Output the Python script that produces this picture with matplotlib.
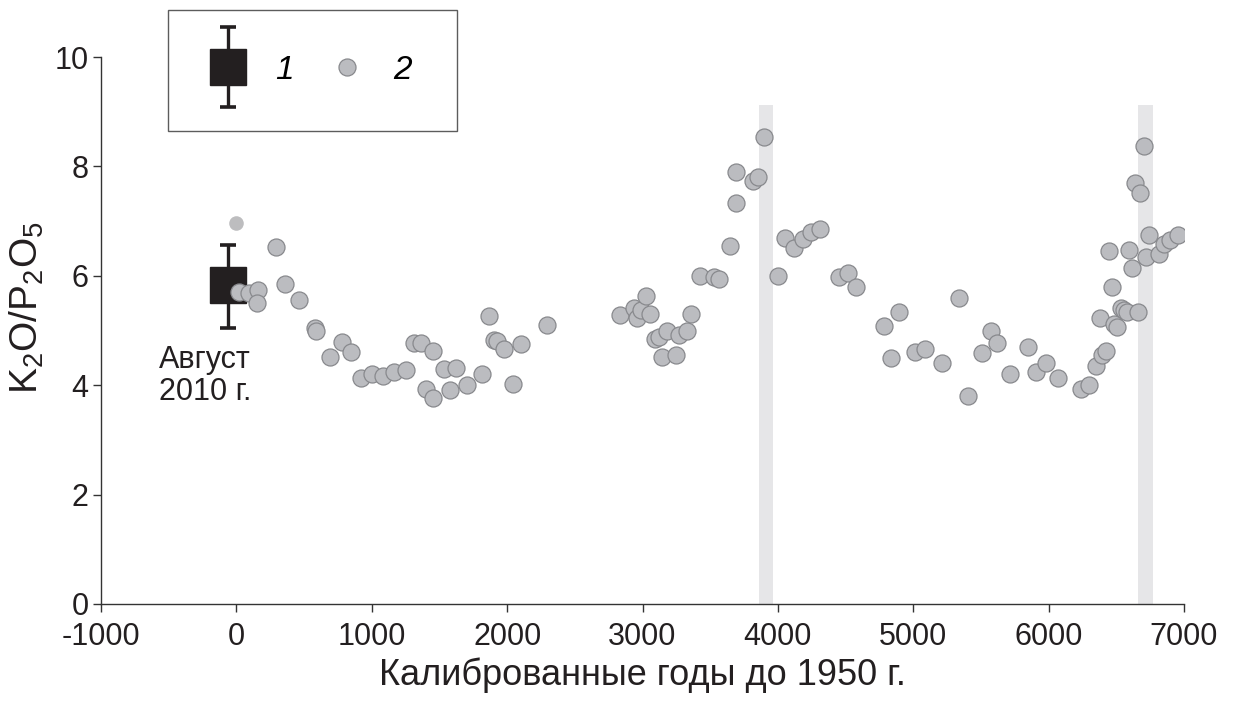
import matplotlib
matplotlib.use('Agg')
import matplotlib.pyplot as plt
from matplotlib.container import ErrorbarContainer
from matplotlib.legend_handler import HandlerErrorbar

plt.rcParams['font.family'] = ['Liberation Sans', 'DejaVu Sans']
plt.rcParams['mathtext.fontset'] = 'custom'
plt.rcParams['mathtext.rm'] = 'Liberation Sans'
plt.rcParams['mathtext.it'] = 'Liberation Sans:italic'
plt.rcParams['axes.unicode_minus'] = False

# 1 - August 2010 sample (mean with spread)
obs_x = [-60]
obs_y = [5.83]
obs_lo = [5.05]
obs_hi = [6.57]

# light point near the observation
extra_x = [0]
extra_y = [6.97]

# 2 - core samples
ages = [17, 91, 160, 152, 293, 357, 465, 583, 589, 689, 780, 847, 921, 1002,
        1083, 1162, 1253, 1310, 1363, 1401, 1450, 1453, 1531, 1580, 1625, 1704,
        1815, 1863, 1900, 1925, 1979, 2041, 2105, 2295, 2831, 2934, 2960, 2991,
        3028, 3058, 3089, 3119, 3144, 3181, 3247, 3272, 3328, 3360, 3427, 3525,
        3562, 3643, 3690, 3690, 3813, 3853, 3895, 3998, 4050, 4117, 4185, 4247,
        4313, 4448, 4515, 4577, 4786, 4838, 4892, 5015, 5084, 5212, 5337, 5401,
        5510, 5574, 5618, 5717, 5845, 5908, 5980, 6071, 6241, 6300, 6352, 6376,
        6393, 6423, 6442, 6467, 6479, 6504, 6534, 6558, 6578, 6597, 6615, 6640,
        6660, 6677, 6706, 6721, 6743, 6812, 6849, 6893, 6959]
ratio = [5.71, 5.69, 5.74, 5.50, 6.52, 5.85, 5.56, 5.04, 5.00, 4.52, 4.79, 4.61,
         4.14, 4.20, 4.16, 4.25, 4.27, 4.77, 4.78, 3.93, 4.63, 3.77, 4.29, 3.91,
         4.31, 4.00, 4.20, 5.27, 4.83, 4.80, 4.67, 4.03, 4.75, 5.10, 5.28, 5.42,
         5.22, 5.37, 5.64, 5.30, 4.84, 4.89, 4.51, 4.99, 4.55, 4.92, 4.99, 5.31,
         6.00, 5.98, 5.95, 6.54, 7.34, 7.89, 7.74, 7.81, 8.53, 6.00, 6.69, 6.50,
         6.67, 6.80, 6.86, 5.98, 6.05, 5.80, 5.08, 4.49, 5.34, 4.60, 4.66, 4.40,
         5.60, 3.81, 4.58, 4.99, 4.77, 4.20, 4.69, 4.25, 4.40, 4.13, 3.93, 4.00,
         4.35, 5.23, 4.56, 4.63, 6.45, 5.80, 5.12, 5.07, 5.41, 5.37, 5.33, 6.48,
         6.15, 7.70, 5.33, 7.52, 8.37, 6.35, 6.75, 6.39, 6.59, 6.65, 6.75]

# shaded intervals
band_start = [3860, 6662]
band_end = [3965, 6770]
band_top = 9.12

fig = plt.figure(figsize=(12.33, 7.13), dpi=100)
ax = fig.add_axes([0.0819, 0.1529, 0.8784, 0.7671])

for b0, b1 in zip(band_start, band_end):
    ax.fill_betweenx([0, band_top], b0, b1, color='#e6e6e8', lw=0, zorder=1)

dark = '#231f20'
eb = ax.errorbar(obs_x, obs_y,
                 yerr=[[y - lo for y, lo in zip(obs_y, obs_lo)],
                       [hi - y for y, hi in zip(obs_y, obs_hi)]],
                 fmt='s', ms=26, color=dark, ecolor=dark, elinewidth=2.4,
                 capsize=6, capthick=2.6, zorder=2)
ax.scatter(extra_x, extra_y, s=110, color='#bdbdbf', lw=0, zorder=3)
sc = ax.scatter(ages, ratio, s=150, facecolor='#bbbcc0', edgecolor='#88898d',
                linewidth=0.9, zorder=4)

ax.text(-575, 4.17, 'Август\n2010 г.', fontsize=22, ha='left', va='center',
        linespacing=1.1, color=dark)

ax.set_xlim(-1000, 7000)
ax.set_ylim(0, 10)
ax.set_xticks(range(-1000, 7001, 1000))
ax.set_yticks(range(0, 11, 2))
ax.tick_params(direction='out', length=6, width=1, color='#333333',
               labelsize=22, labelcolor=dark)
ax.tick_params(axis='x', pad=7)
ax.tick_params(axis='y', pad=3)
for s in ['top', 'right']:
    ax.spines[s].set_visible(False)
for s in ['left', 'bottom']:
    ax.spines[s].set_color('#333333')
    ax.spines[s].set_linewidth(1)

ax.set_xlabel('Калиброванные годы до 1950 г.', fontsize=26, labelpad=4, color=dark)
ax.set_ylabel(r'K$_2$O/P$_2$O$_5$', fontsize=28, color=dark)
ax.yaxis.set_label_coords(-0.051, 0.541)

leg = fig.legend([eb, sc], ['1', '2'], loc='upper left',
                 bbox_to_anchor=(0.1363, 0.986), borderaxespad=0, ncol=2,
                 frameon=True, fancybox=False, edgecolor='#333333',
                 prop={'size': 24, 'style': 'italic'},
                 handler_map={ErrorbarContainer: HandlerErrorbar(yerr_size=1.2)},
                 borderpad=1.35, handletextpad=0.95, columnspacing=1.15,
                 handlelength=0.9, scatterpoints=1, scatteryoffsets=[0.5])
leg.get_frame().set_linewidth(1)

fig.savefig('out.png', dpi=100)
